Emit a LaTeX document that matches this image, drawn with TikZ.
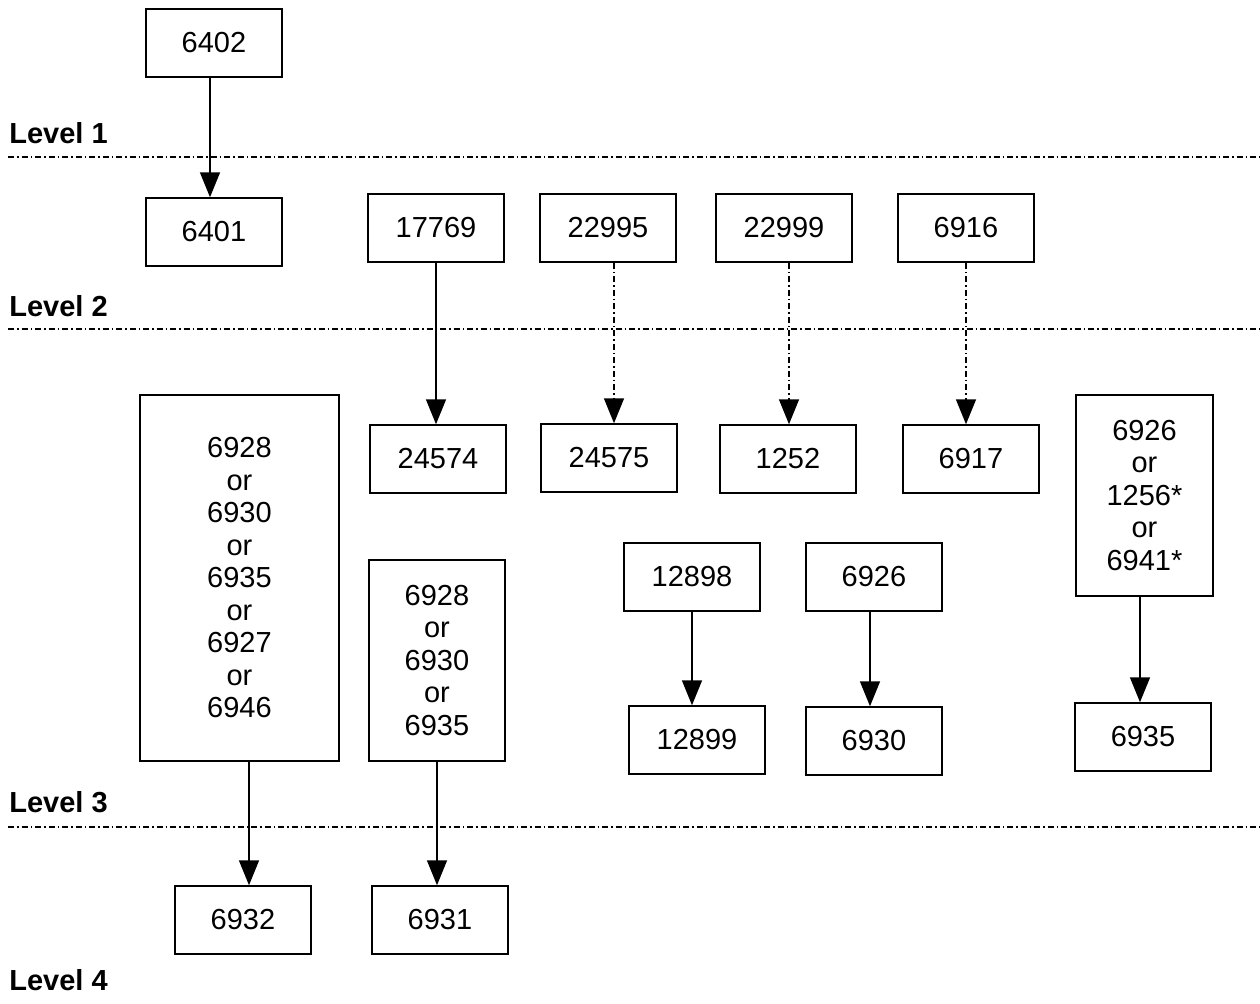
\documentclass[tikz,border=0pt]{standalone}
\usepackage{fontspec}
\setmainfont{Liberation Sans}
\usetikzlibrary{arrows.meta,positioning}
\tikzset{
  numbox/.style = {draw=black, line width=0.75pt, fill=white, align=center,
    inner sep=0pt, minimum width=68pt, minimum height=34pt,
    font=\fontsize{14.5}{16.25}\selectfont},% boite simple
  tallbox/.style = {numbox, minimum height=100.5pt},% boite avec "or"
  bigbox/.style = {numbox, minimum width=99.5pt, minimum height=183pt},% grande boite
  lvl/.style = {anchor=west, inner sep=0pt,
    font=\fontsize{14.5}{16}\selectfont\bfseries},% niveau
  lvlline/.style = {line width=0.6pt, dash pattern=on 3pt off 1.5pt on 0.75pt off 1.5pt},
  solidarr/.style = {-{Triangle[width=10pt,length=12.5pt]}, line width=0.8pt},
  dasharr/.style = {solidarr, dash pattern=on 3pt off 1.5pt on 0.75pt off 1.5pt}
}
\begin{document}
\begin{tikzpicture}[x=0.5pt,y=-0.5pt]
  \useasboundingbox (0,0) rectangle (1260,1003);
  % niveaux
  \node [lvl] (L1) at (9,133) {Level 1};
  \node [lvl] (L2) at (9,306) {Level 2};
  \node [lvl] (L3) at (9,802) {Level 3};
  \node [lvl] (L4) at (9,980) {Level 4};
  \draw [lvlline] (8,157) -- (1260,157);
  \draw [lvlline] (8,329) -- (1260,329);
  \draw [lvlline] (8,827) -- (1260,827);

  \node [numbox] (A) at (214,43) {6402};
  \node [numbox] (B) at (214,232) {6401};
  \node [numbox] (C) at (436,228) {17769};
  \node [numbox] (D) at (608,228) {22995};
  \node [numbox] (E) at (784,228) {22999};
  \node [numbox] (F) at (966,228) {6916};
  \node [numbox] (G) at (438,459) {24574};
  \node [numbox] (H) at (609,458) {24575};
  \node [numbox] (I) at (788,459) {1252};
  \node [numbox] (J) at (971,459) {6917};
  \node [bigbox] (K) at (239.5,578) {6928\\or\\6930\\or\\6935\\or\\6927\\or\\6946};
  \node [tallbox] (M) at (437,660.5) {6928\\or\\6930\\or\\6935};
  \node [numbox] (N) at (692,577) {12898};
  \node [numbox] (O) at (874,577) {6926};
  \node [tallbox, minimum width=68.5pt] (P) at (1144.5,495.5) {6926\\or\\1256*\\or\\6941*};
  \node [numbox] (Q) at (697,740) {12899};
  \node [numbox] (R) at (874,741) {6930};
  \node [numbox] (S) at (1143,737) {6935};
  \node [numbox] (T) at (243,920) {6932};
  \node [numbox] (U) at (440,920) {6931};

  \draw [solidarr] ([xshift=-2pt]A.south) -- ([xshift=-2pt]B.north);
  \draw [solidarr] (C.south) -- (C.south |- G.north);
  \draw [dasharr] ([xshift=3pt]D.south) -- ([xshift=3pt]D.south |- H.north);
  \draw [dasharr] ([xshift=2.5pt]E.south) -- ([xshift=2.5pt]E.south |- I.north);
  \draw [dasharr] (F.south) -- (F.south |- J.north);
  \draw [solidarr] (N.south) -- (N.south |- Q.north);
  \draw [solidarr] ([xshift=-2pt]O.south) -- ([xshift=-2pt]R.north);
  \draw [solidarr] ([xshift=-1.5pt]S.north |- P.south) -- ([xshift=-1.5pt]S.north);
  \draw [solidarr] ([xshift=3pt]T.north |- K.south) -- ([xshift=3pt]T.north);
  \draw [solidarr] (M.south) -- (M.south |- U.north);
\end{tikzpicture}
\end{document}
